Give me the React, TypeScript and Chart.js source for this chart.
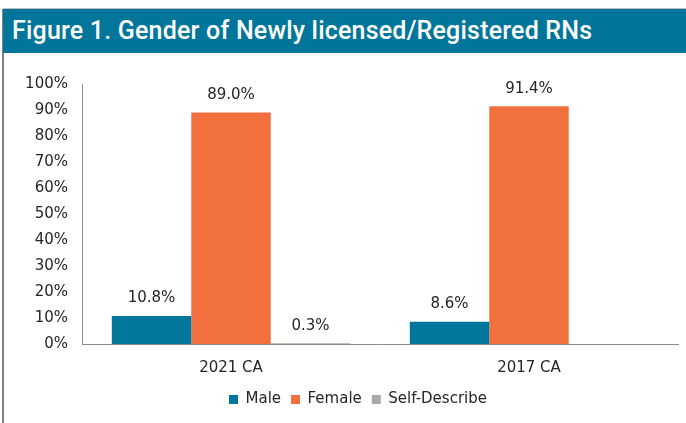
import React, { useEffect, useRef } from "react";
import { Chart, registerables } from "chart.js";

Chart.register(...registerables);

const categories = ["2021 CA", "2017 CA"];
const maleValues = [10.8, 8.6];
const femaleValues = [89.0, 91.4];
const selfDescribeValues: (number | null)[] = [0.3, null];
const yTicks = [0, 10, 20, 30, 40, 50, 60, 70, 80, 90, 100];

const FONT = "'DejaVu Sans', sans-serif";

const valueLabels = {
  id: "valueLabels",
  afterDatasetsDraw(chart: any) {
    const ctx = chart.ctx;
    ctx.save();
    ctx.font = `15px ${FONT}`;
    ctx.fillStyle = "#262626";
    ctx.textAlign = "center";
    ctx.textBaseline = "bottom";
    chart.data.datasets.forEach((ds: any, i: number) => {
      const meta = chart.getDatasetMeta(i);
      meta.data.forEach((el: any, j: number) => {
        const v = ds.data[j];
        if (v === null || v === undefined) return;
        ctx.fillText(v.toFixed(1) + "%", el.x, el.y - 10);
      });
    });
    ctx.restore();
  },
};

const legendShift = {
  id: "legendShift",
  afterLayout(chart: any) {
    if (chart.legend) {
      chart.legend.left += 17;
      chart.legend.right += 17;
    }
  },
};

export default function App() {
  const ref = useRef<HTMLCanvasElement>(null);
  useEffect(() => {
    document.body.style.margin = "0";
    const chart = new Chart(ref.current!, {
      type: "bar",
      data: {
        labels: categories,
        datasets: [
          { label: "Male", data: maleValues, backgroundColor: "#00779B", borderColor: "#00779B" },
          { label: "Female", data: femaleValues, backgroundColor: "#F2703D", borderColor: "#F2703D" },
          { label: "Self-Describe", data: selfDescribeValues, backgroundColor: "#A6ACA3", borderColor: "#A6ACA3" },
        ],
      },
      options: {
        animation: false,
        responsive: false,
        maintainAspectRatio: false,
        datasets: { bar: { categoryPercentage: 0.8, barPercentage: 1.0 } } as any,
        layout: { padding: { top: 32, right: 8, left: 0, bottom: 6 } },
        plugins: {
          tooltip: { enabled: false },
          legend: {
            position: "bottom",
            labels: {
              boxWidth: 9,
              boxHeight: 9,
              padding: 10,
              color: "#262626",
              font: { family: FONT, size: 15 },
            },
          },
        },
        scales: {
          x: {
            grid: { display: false, drawTicks: false },
            border: { display: true, color: "#8c8c8c", width: 1 },
            ticks: { color: "#262626", padding: 15, font: { family: FONT, size: 15 } },
            afterFit: (s: any) => { s.height = 38; },
          },
          y: {
            min: 0,
            max: 100,
            grid: { display: false, drawTicks: false },
            border: { display: true, color: "#8c8c8c", width: 1 },
            afterBuildTicks: (s: any) => { s.ticks = yTicks.map((v) => ({ value: v })); },
            ticks: {
              color: "#262626",
              padding: 14,
              font: { family: FONT, size: 15 },
              callback: (v: any) => v + "%",
            },
            afterFit: (s: any) => { s.width = 78; },
          },
        },
      },
      plugins: [valueLabels, legendShift],
    });
    return () => chart.destroy();
  }, []);

  return (
    <div style={{ position: "absolute", left: 0, top: 0, width: 686, height: 423, background: "#fff", overflow: "hidden" }}>
      <div style={{ position: "absolute", left: 2, top: 9, width: 2, height: 414, background: "#7f7f7f" }} />
      <div style={{ position: "absolute", left: 3, top: 8, width: 683, height: 1, background: "#bfbfbf" }} />
      <div
        style={{
          position: "absolute",
          left: 3,
          top: 9,
          width: 683,
          height: 44,
          background: "#02769A",
          color: "#fff",
          fontFamily: "Roboto, sans-serif",
          fontWeight: 500,
          fontSize: 25,
          lineHeight: "44px",
          paddingLeft: 9,
          letterSpacing: 0.2,
          whiteSpace: "nowrap",
          boxSizing: "border-box",
        }}
      >
        Figure 1. Gender of Newly licensed/Registered RNs
      </div>
      <canvas ref={ref} width={682} height={371} style={{ position: "absolute", left: 4, top: 52, width: 682, height: 371 }} />
    </div>
  );
}
